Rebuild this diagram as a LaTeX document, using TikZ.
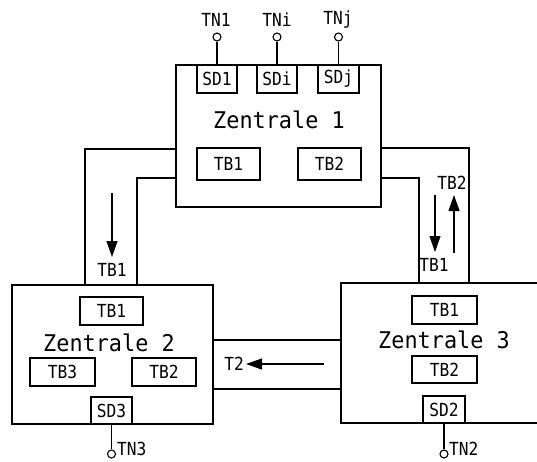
\documentclass[tikz,border=0pt]{standalone}
\usepackage{fontspec}
\newfontfamily\dinfont[FakeStretch=0.9]{DejaVu Sans Mono}
\newfontfamily\dinbig[FakeStretch=0.95]{DejaVu Sans Mono}
\usetikzlibrary{arrows.meta}
\tikzset{
  lw/.style={line width=1.1pt},
  zbox/.style={draw, lw, inner sep=0pt, minimum width=#1},
  sub/.style={draw, lw, inner sep=0pt, font=\dinfont\fontsize{18}{20}\selectfont},
  ztext/.style={inner sep=0pt, font=\dinbig\fontsize{23}{26}\selectfont},
  lbl/.style={inner sep=0pt, font=\dinfont\fontsize{18}{20}\selectfont},
  tn/.style={draw, lw, circle, inner sep=0pt, minimum size=8pt, fill=white},
  flow/.style={lw, -{Triangle[length=16pt,width=11pt]}}
}
\begin{document}
\begin{tikzpicture}[x=1pt,y=-1pt]
\clip (0,0) rectangle (537,461);
\fill[white] (0,0) rectangle (537,461);
% main boxes
\node[zbox=205pt, minimum height=142pt] (z1) at (278.5,136) {};
\node[zbox=201pt, minimum height=139pt] (z2) at (112.5,354.5) {};
\node[zbox=219pt, minimum height=140pt] (z3) at (450.5,353) {};
% titles
\node[ztext] (t1) at (279,120) {Zentrale 1};
\node[ztext] (t2) at (109,343) {Zentrale 2};
\node[ztext] (t3) at (444,340) {Zentrale 3};
% Zentrale 1 sub boxes
\node[sub, minimum width=40pt, minimum height=28pt] (sd1) at (217,79) {SD1};
\node[sub, minimum width=40pt, minimum height=28pt] (sdi) at (277,79) {SDi};
\node[sub, minimum width=41pt, minimum height=28pt] (sdj) at (338.5,79) {SDj};
\node[sub, minimum width=63pt, minimum height=32pt] (z1tb1) at (228.5,164) {TB1};
\node[sub, minimum width=63pt, minimum height=32pt] (z1tb2) at (329.5,164) {TB2};
% Zentrale 2 sub boxes
\node[sub, minimum width=63pt, minimum height=28pt] (z2tb1) at (111.5,311) {TB1};
\node[sub, minimum width=65pt, minimum height=28pt] (z2tb3) at (62.5,372) {TB3};
\node[sub, minimum width=64pt, minimum height=28pt] (z2tb2) at (164,372) {TB2};
\node[sub, minimum width=41pt, minimum height=27pt] (sd3) at (111.5,410.5) {SD3};
% Zentrale 3 sub boxes
\node[sub, minimum width=65pt, minimum height=28pt] (z3tb1) at (444.5,310) {TB1};
\node[sub, minimum width=65pt, minimum height=27pt] (z3tb2) at (444.5,369.5) {TB2};
\node[sub, minimum width=42pt, minimum height=27pt] (sd2) at (444,409.5) {SD2};
% terminals
\node[tn] (tn1) at (217,37) {};
\node[tn] (tni) at (277,37) {};
\node[tn] (tnj) at (338.5,37) {};
\node[tn] (tn3) at (111.5,454) {};
\node[tn] (tn2) at (444,454) {};
\node[lbl] (ltn1) at (216,20) {TN1};
\node[lbl] (ltni) at (277,20) {TNi};
\node[lbl] (ltnj) at (338,20) {TNj};
\node[lbl, anchor=west] (ltn3) at (117,449) {TN3};
\node[lbl, anchor=west] (ltn2) at (449,449) {TN2};
\draw[lw] (tn1) -- (sd1.north);
\draw[lw] (tni) -- (sdi.north);
\draw[lw] (tnj) -- (sdj.north);
\draw[lw] (sd3.south) -- (tn3);
\draw[lw] (sd2.south) -- (tn2);
% channels
\draw[lw] (z1.west |- 0,149) -| (85,0 |- z2.north);
\draw[lw] (z1.west |- 0,178) -| (137,0 |- z2.north);
\draw[lw] (z1.east |- 0,148) -| (469,0 |- z3.north);
\draw[lw] (z1.east |- 0,178) -| (419,0 |- z3.north);
\draw[lw] (z2.east |- 0,340) -- (z3.west |- 0,340);
\draw[lw] (z2.east |- 0,389) -- (z3.west |- 0,389);
% flow arrows and labels
\coordinate (a1s) at (112,193); \coordinate (a1e) at (112,257);
\draw[flow] (a1s) -- (a1e);
\node[lbl] (l1) at (112,270) {TB1};
\coordinate (a2s) at (435,195); \coordinate (a2e) at (435,252);
\draw[flow] (a2s) -- (a2e);
\coordinate (a3s) at (454,253); \coordinate (a3e) at (454,195);
\draw[flow] (a3s) -- (a3e);
\node[lbl] (l2) at (452,183) {TB2};
\node[lbl] (l3) at (434,265) {TB1};
\coordinate (a4s) at (324,364); \coordinate (a4e) at (246,364);
\draw[flow] (a4s) -- (a4e);
\node[lbl, anchor=east] (l4) at (244,364) {T2};
\end{tikzpicture}
\end{document}
